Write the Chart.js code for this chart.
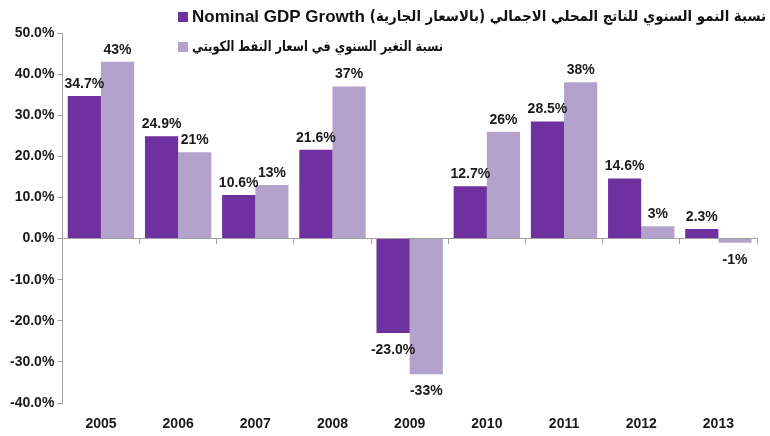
<!DOCTYPE html>
<html>
<head>
<meta charset="utf-8">
<script src="https://cdn.jsdelivr.net/npm/chart.js@4.4.1/dist/chart.umd.min.js"></script>
<style>
  html, body { margin: 0; padding: 0; background: #fff; }
  #wrap { width: 770px; height: 436px; }
</style>
</head>
<body>
<div id="wrap"><canvas id="gdpChart" width="770" height="436"></canvas></div>
<script>
const years = ['2005', '2006', '2007', '2008', '2009', '2010', '2011', '2012', '2013'];
const nominalGdp = [34.7, 24.9, 10.6, 21.6, -23.0, 12.7, 28.5, 14.6, 2.3];
const oilPrice = [43, 21, 13, 37, -33, 26, 38, 3, -1];
const gdpLabels = ['34.7%', '24.9%', '10.6%', '21.6%', '-23.0%', '12.7%', '28.5%', '14.6%', '2.3%'];
const oilLabels = ['43%', '21%', '13%', '37%', '-33%', '26%', '38%', '3%', '-1%'];
const legendEn = 'Nominal GDP Growth';
const legendAr1 = 'نسبة النمو السنوي للناتج المحلي الاجمالي (بالاسعار الجارية)';
const legendAr2 = 'نسبة التغير السنوي في اسعار النفط الكويتي';

const darkPurple = '#7031a0';
const lightPurple = '#b3a2cc';
const axisGray = '#a0a0a0';
const tickFont = { family: '"Liberation Sans", Arial, sans-serif', size: 14, weight: 'bold' };

// подписи над столбцами
const barLabels = {
  id: 'barLabels',
  afterDatasetsDraw(chart) {
    const ctx = chart.ctx;
    const texts = [gdpLabels, oilLabels];
    ctx.save();
    ctx.font = 'bold 14px "Liberation Sans", Arial, sans-serif';
    ctx.fillStyle = '#1a1a1a';
    ctx.textAlign = 'center';
    ctx.textBaseline = 'middle';
    chart.data.datasets.forEach((ds, i) => {
      chart.getDatasetMeta(i).data.forEach((bar, j) => {
        const v = ds.data[j];
        const y = v >= 0 ? bar.y - 12 : bar.y + 17;
        ctx.fillText(texts[i][j], bar.x, y);
      });
    });
    ctx.restore();
  }
};

// легенда
const customLegend = {
  id: 'customLegend',
  afterDraw(chart) {
    const ctx = chart.ctx;
    ctx.save();
    ctx.fillStyle = darkPurple;
    ctx.fillRect(178, 12, 10, 10);
    ctx.fillStyle = lightPurple;
    ctx.fillRect(178, 42, 10, 10);

    ctx.fillStyle = '#111';
    ctx.textBaseline = 'middle';
    ctx.font = 'bold 17px "Liberation Sans", Arial, sans-serif';
    ctx.textAlign = 'left';
    ctx.fillText(legendEn, 192, 17);
    const enW = ctx.measureText(legendEn).width;

    ctx.direction = 'rtl';
    ctx.textAlign = 'right';
    ctx.font = 'bold 15px "DejaVu Sans", sans-serif';
    ctx.fillText(legendAr1, 766, 17, 766 - (192 + enW + 5));
    ctx.font = 'bold 14px "DejaVu Sans", sans-serif';
    ctx.fillText(legendAr2, 443, 47, 443 - 192);
    ctx.restore();
  }
};

new Chart(document.getElementById('gdpChart'), {
  type: 'bar',
  data: {
    labels: years,
    datasets: [
      { label: legendEn, data: nominalGdp, backgroundColor: darkPurple },
      { label: legendAr2, data: oilPrice, backgroundColor: lightPurple }
    ]
  },
  options: {
    responsive: false,
    animation: false,
    barPercentage: 1,
    categoryPercentage: 0.86,
    layout: { padding: { top: 33, right: 13, left: 7, bottom: 0 } },
    plugins: { legend: { display: false }, tooltip: { enabled: false } },
    scales: {
      x: {
        position: { y: 0 },
        ticks: { display: false },
        grid: { offset: true, drawOnChartArea: false, drawTicks: true, tickLength: 5, color: axisGray },
        border: { color: axisGray }
      },
      x2: {
        type: 'category',
        position: 'bottom',
        grid: { display: false },
        border: { display: false },
        ticks: { font: tickFont, color: '#1a1a1a', padding: 5 },
        afterFit: (scale) => { scale.height = 33; }
      },
      y: {
        min: -40,
        max: 50,
        ticks: {
          stepSize: 10,
          font: tickFont,
          color: '#1a1a1a',
          padding: 3,
          callback: (v) => v.toFixed(1) + '%'
        },
        grid: { drawOnChartArea: false, drawTicks: true, tickLength: 5, color: axisGray },
        border: { color: axisGray }
      }
    }
  },
  plugins: [barLabels, customLegend]
});
</script>
</body>
</html>
